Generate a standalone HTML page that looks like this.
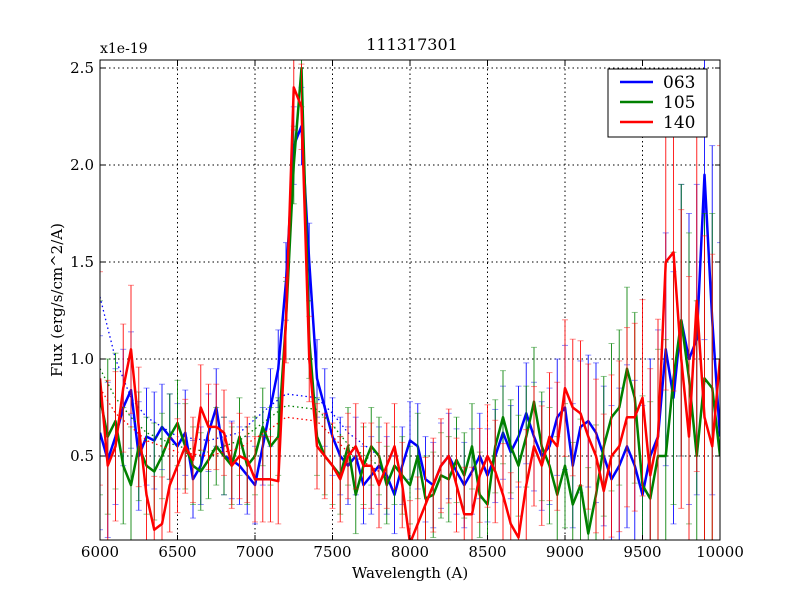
<!DOCTYPE html>
<html><head><meta charset="utf-8"><style>
html,body{margin:0;padding:0;background:#fff;width:800px;height:600px;overflow:hidden;}
svg{display:block;}
svg text{font-family:"DejaVu Serif","Liberation Serif",serif;}
</style></head><body>
<svg id="chart" width="800" height="600" xmlns="http://www.w3.org/2000/svg">
<rect width="800" height="600" fill="#fff"/>
<defs><clipPath id="clip"><rect x="100" y="60" width="620" height="480"/></clipPath></defs>
<g id="grid"></g>
<g id="series" clip-path="url(#clip)"></g>
<rect x="100" y="60" width="620" height="480" fill="none" stroke="#000" stroke-width="1"/>
<g id="ticks"></g>
<text x="412" y="50" font-size="16" text-anchor="middle">111317301</text>
<text x="100" y="53" font-size="14">x1e-19</text>
<text x="410" y="578" font-size="15" text-anchor="middle">Wavelength (A)</text>
<text transform="translate(62,300) rotate(-90)" font-size="15" text-anchor="middle">Flux (erg/s/cm^2/A)</text>
<g>
<rect x="608" y="69" width="99" height="68" fill="#fff" stroke="#000"/>
<line x1="620" y1="82" x2="653" y2="82" stroke="#0000ff" stroke-width="2.5"/>
<text x="663" y="88" font-size="17">063</text>
<line x1="620" y1="102" x2="653" y2="102" stroke="#008000" stroke-width="2.5"/>
<text x="663" y="108" font-size="17">105</text>
<line x1="620" y1="122" x2="653" y2="122" stroke="#ff0000" stroke-width="2.5"/>
<text x="663" y="128" font-size="17">140</text>
</g>
</svg>
<script>
const xTicks=[6000,6500,7000,7500,8000,8500,9000,9500,10000];
const yTicks=[0.5,1.0,1.5,2.0,2.5];
const wl0=6000, wlStep=50;
const flux063=[0.62,0.48,0.6,0.75,0.84,0.5,0.6,0.58,0.65,0.6,0.55,0.62,0.38,0.45,0.62,0.75,0.5,0.48,0.45,0.4,0.35,0.55,0.75,0.95,1.4,2.1,2.2,1.5,0.9,0.75,0.6,0.5,0.45,0.5,0.35,0.4,0.45,0.4,0.3,0.45,0.58,0.55,0.38,0.35,0.45,0.5,0.42,0.35,0.42,0.5,0.4,0.5,0.62,0.52,0.6,0.72,0.6,0.5,0.55,0.7,0.75,0.45,0.65,0.68,0.62,0.5,0.38,0.45,0.55,0.45,0.3,0.5,0.6,1.05,0.8,1.2,1.0,1.1,1.95,1.2,0.6];
const flux105=[0.8,0.6,0.68,0.45,0.35,0.55,0.45,0.42,0.5,0.6,0.67,0.55,0.45,0.42,0.48,0.55,0.5,0.45,0.6,0.45,0.5,0.65,0.55,0.6,1.2,2.0,2.5,1.1,0.6,0.5,0.45,0.4,0.55,0.3,0.45,0.55,0.5,0.35,0.45,0.4,0.35,0.5,0.28,0.3,0.4,0.38,0.48,0.4,0.55,0.3,0.25,0.55,0.7,0.55,0.45,0.6,0.78,0.55,0.45,0.3,0.45,0.25,0.35,0.1,0.3,0.55,0.7,0.75,0.95,0.8,0.35,0.28,0.5,0.5,0.9,1.2,0.9,0.5,0.9,0.85,0.5];
const flux140=[0.9,0.45,0.55,0.85,1.05,0.65,0.3,0.12,0.15,0.35,0.45,0.55,0.48,0.75,0.65,0.65,0.62,0.45,0.5,0.48,0.38,0.38,0.38,0.37,1.2,2.4,2.3,1.0,0.55,0.5,0.45,0.38,0.5,0.55,0.45,0.45,0.35,0.45,0.55,0.35,0.05,0.15,0.25,0.35,0.45,0.5,0.35,0.2,0.2,0.4,0.5,0.42,0.3,0.15,0.08,0.35,0.55,0.45,0.6,0.55,0.85,0.75,0.72,0.6,0.5,0.32,0.5,0.55,0.7,0.7,0.8,0.4,0.6,1.5,1.55,1.0,0.6,1.3,0.7,0.55,1.0];
const errBase=[0.5,0.4,0.35,0.3,0.3,0.28,0.25,0.25,0.22,0.22,0.22,0.22,0.2,0.2,0.2,0.2,0.2,0.2,0.2,0.2,0.2,0.2,0.2,0.2,0.2,0.2,0.2,0.2,0.2,0.2,0.2,0.2,0.2,0.2,0.2,0.2,0.2,0.2,0.2,0.2,0.2,0.22,0.22,0.22,0.22,0.22,0.22,0.22,0.22,0.22,0.24,0.24,0.24,0.24,0.26,0.26,0.28,0.28,0.3,0.3,0.32,0.32,0.34,0.34,0.36,0.36,0.38,0.4,0.42,0.44,0.46,0.5,0.55,0.6,0.65,0.7,0.75,0.8,0.85,0.9,1.0];
const contWl=[6000,6100,6200,6300,6500,6700,6900,7100,7200,7400,7500,7600,7800];
const cont063=[1.32,1.0,0.8,0.7,0.6,0.58,0.62,0.76,0.82,0.8,0.72,0.62,0.5];
const cont105=[0.95,0.8,0.7,0.62,0.55,0.52,0.58,0.7,0.76,0.74,0.66,0.56,0.45];
const cont140=[0.85,0.72,0.65,0.58,0.52,0.5,0.54,0.64,0.7,0.68,0.6,0.52,0.42];
const X=v=>100+(v-6000)*620/4000;
const Y=v=>456-(v-0.5)*194;
const NS="http://www.w3.org/2000/svg";
function mk(tag,attrs,parent){const e=document.createElementNS(NS,tag);for(const k in attrs)e.setAttribute(k,attrs[k]);parent.appendChild(e);return e;}
const grid=document.getElementById('grid'),ticks=document.getElementById('ticks'),ser=document.getElementById('series');
xTicks.forEach(t=>{const x=X(t);
 if(t>6000&&t<10000){const g=mk('line',{x1:x,y1:60,x2:x,y2:540,stroke:'#000','stroke-dasharray':'1.5,3'},grid);
 
 }
 mk('line',{x1:x,y1:540,x2:x,y2:535,stroke:'#000'},ticks);
 mk('line',{x1:x,y1:60,x2:x,y2:65,stroke:'#000'},ticks);
 const tx=mk('text',{x:x,y:557,'font-size':15,'text-anchor':'middle'},ticks);tx.textContent=t;
 
 });
yTicks.forEach(t=>{const y=Y(t);
 const g=mk('line',{x1:100,y1:y,x2:720,y2:y,stroke:'#000','stroke-dasharray':'1.5,3'},grid);
 
 
 mk('line',{x1:100,y1:y,x2:105,y2:y,stroke:'#000'},ticks);
 mk('line',{x1:720,y1:y,x2:715,y2:y,stroke:'#000'},ticks);
 const tx=mk('text',{x:94,y:y+5,'font-size':15,'text-anchor':'end'},ticks);tx.textContent=t.toFixed(1);
 
 });
function series(vals,cont,color,name,scale){
 const g=mk('g',{},ser);
 
 
 vals.forEach((v,i)=>{const x=X(wl0+i*wlStep),e=errBase[i]*scale;
  mk('line',{x1:x,y1:Y(v-e),x2:x,y2:Y(v+e),stroke:color,'stroke-width':1,opacity:0.85},g);
  mk('line',{x1:x-3,y1:Y(v-e),x2:x+3,y2:Y(v-e),stroke:color,'stroke-width':1,opacity:0.45},g);
  mk('line',{x1:x-3,y1:Y(v+e),x2:x+3,y2:Y(v+e),stroke:color,'stroke-width':1,opacity:0.45},g);});
 mk('polyline',{points:cont.map((v,i)=>X(contWl[i])+','+Y(v)).join(' '),fill:'none',stroke:color,'stroke-width':1.3,'stroke-dasharray':'1.5,3'},g);
 const p=mk('polyline',{points:vals.map((v,i)=>X(wl0+i*wlStep)+','+Y(v)).join(' '),fill:'none',stroke:color,'stroke-width':2.5,'stroke-linejoin':'round'},g);
 
 }
series(flux063,cont063,'#0000ff','063',1.0);
series(flux105,cont105,'#008000','105',1.0);
series(flux140,cont140,'#ff0000','140',1.1);
</script>
</body></html>
